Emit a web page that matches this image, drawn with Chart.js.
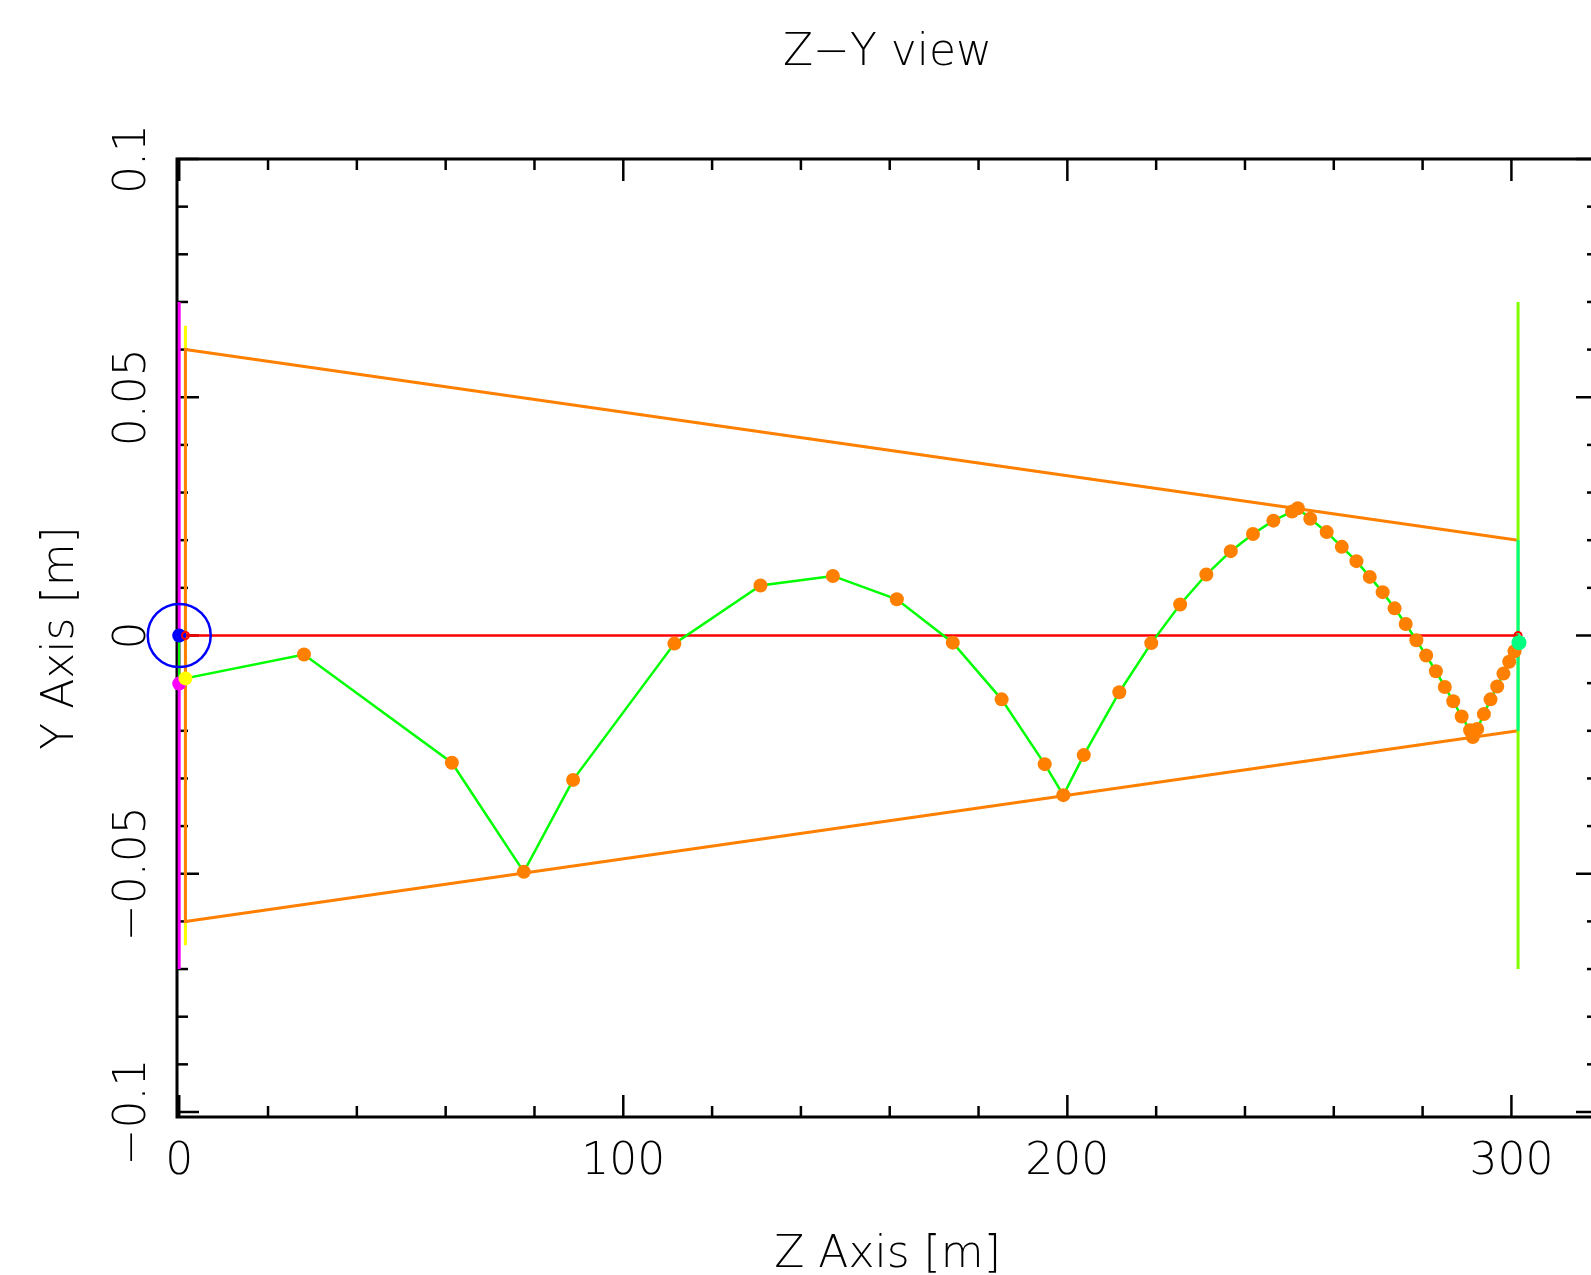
<!DOCTYPE html>
<html><head><meta charset="utf-8">
<script src="https://cdn.jsdelivr.net/npm/chart.js@4.4.0/dist/chart.umd.min.js"></script>
<style>html,body{margin:0;padding:0;background:#fff;overflow:hidden;}</style>
</head><body><canvas id="c" width="1591" height="1275"></canvas>
<script>
// ---------- texts ----------
const titleText = 'Z−Y view';
const xTitle = 'Z Axis [m]';
const yTitle = 'Y Axis [m]';

// ---------- axes ----------
const xMin = -0.5, xMax = 319.5;
const yMin = -0.10105, yMax = 0.1;
const xTickValues = [0, 100, 200, 300];
const xTickLabels = ['0', '100', '200', '300'];
const yTickValues = [-0.1, -0.05, 0, 0.05, 0.1];
const yTickLabels = ['−0.1', '−0.05', '0', '0.05', '0.1'];
const xMinorStep = 20, xMajorStep = 100;
const yMinorStep = 0.01, yMajorStep = 0.05;

// ---------- elements ----------
const magentaLineZ = [0, 0],          magentaLineY = [0.07, -0.07];
const yellowLineZ  = [1.4, 1.4],      yellowLineY  = [0.065, -0.065];
const orangeZ      = [301.5, 1.4, 1.4, 301.5];
const orangeY      = [0.02, 0.06, -0.06, -0.02];
const limeLineZ    = [301.5, 301.5],  limeLineY    = [0.07, -0.07];
const mintLineZ    = [301.5, 301.5],  mintLineY    = [0.02, -0.02];
const redLineZ     = [1.4, 301.5],    redLineY     = [0, 0];

// beam track (green line); orange markers on its interior points
const trackZ = [0, 0, 1.4, 28.1, 61.4, 77.6, 88.7, 111.5, 130.9, 147.2, 161.6, 174.2, 185.2, 194.9, 199.1, 203.7,
  211.7, 218.9, 225.4, 231.3, 236.8, 241.8, 246.4, 250.6, 251.9, 254.7, 258.4, 261.8, 265.1, 268.1, 271.0,
  273.7, 276.2, 278.6, 280.8, 283.0, 285.0, 286.9, 288.8, 290.7, 291.3, 292.3, 293.8, 295.3, 296.8, 298.2,
  299.5, 300.7, 301.7];
const trackY = [0, -0.0101, -0.009, -0.0040, -0.0267, -0.0496, -0.0303, -0.0017, 0.0105, 0.0125, 0.0076, -0.0015,
  -0.0134, -0.0270, -0.0335, -0.0251, -0.0119, -0.0016, 0.0065, 0.0128, 0.0177, 0.0213, 0.0241, 0.0260,
  0.0267, 0.0245, 0.0217, 0.0186, 0.0156, 0.0123, 0.0091, 0.0057, 0.0024, -0.0010, -0.0042, -0.0075,
  -0.0108, -0.0138, -0.0170, -0.0199, -0.0213, -0.0196, -0.0165, -0.0134, -0.0107, -0.0080, -0.0055,
  -0.0033, -0.0015];
const markerStart = 3, markerEnd = trackZ.length - 1;

const sourceZ = [0],     sourceY = [0];
const magentaDotZ = [0], magentaDotY = [-0.0101];
const yellowDotZ = [1.4], yellowDotY = [-0.009];
const mintDotZ = [301.7], mintDotY = [-0.0015];
const redEndZ = [1.4, 301.5], redEndY = [0, 0];

// ---------- helpers ----------
const pts = (zs, ys) => zs.map((z, i) => ({x: z, y: ys[i]}));
const FONT = 'DejaVu Sans';
const FW = '200';
const FS = 44;
const FRAME_OVERFLOW = 7; // the plot frame runs a few pixels past the right edge of the picture

function lineDs(zs, ys, color, w) {
  return {data: pts(zs, ys), showLine: true, borderColor: color, borderWidth: w, pointRadius: 0, fill: false};
}
function dotDs(zs, ys, color, r, opts) {
  return Object.assign({data: pts(zs, ys), showLine: false, pointRadius: r, pointBackgroundColor: color,
    pointBorderColor: color, pointBorderWidth: 0, clip: false}, opts || {});
}

const datasets = [
  lineDs(magentaLineZ, magentaLineY, '#ff00ff', 3),
  lineDs(yellowLineZ, yellowLineY, '#ffff00', 3),
  lineDs(orangeZ, orangeY, '#ff8000', 3),
  lineDs(limeLineZ, limeLineY, '#80ff00', 3),
  lineDs(mintLineZ, mintLineY, '#00ff80', 3),
  lineDs(redLineZ, redLineY, '#ff0000', 2.5),
  lineDs(trackZ, trackY, '#00ff00', 2.5),
  dotDs(trackZ.slice(markerStart, markerEnd), trackY.slice(markerStart, markerEnd), '#ff8000', 7),
  dotDs(sourceZ, sourceY, 'rgba(0,0,0,0)', 31.5, {pointBorderColor: '#0000ff', pointBorderWidth: 2.5}),
  dotDs(sourceZ, sourceY, '#0000ff', 7),
  dotDs(magentaDotZ, magentaDotY, '#ff00ff', 7),
  dotDs(yellowDotZ, yellowDotY, '#ffff00', 7),
  dotDs(redEndZ, redEndY, 'rgba(0,0,0,0)', 3.5, {pointBorderColor: '#ff0000', pointBorderWidth: 2}),
  dotDs(mintDotZ, mintDotY, '#00ff80', 7.5),
];
datasets.forEach((d, i) => { d.order = -i; });

// extend the plot area past the right edge, as in the reference
const overflowPlugin = {
  id: 'overflow',
  afterLayout(chart) {
    const target = chart.width + FRAME_OVERFLOW;
    const a = chart.chartArea;
    a.right = target; a.width = a.right - a.left;
    const xs = chart.scales.x;
    xs.right = target; xs.width = xs.right - xs.left; xs.configure();
    if (chart.titleBlock) {
      chart.titleBlock.right = target; chart.titleBlock.width = target - chart.titleBlock.left;
    }
  }
};

// frame + inward tick marks, positioned through the chart's scales
const framePlugin = {
  id: 'frame',
  beforeDatasetsDraw(chart) {
    const {ctx, chartArea: a, scales: {x, y}} = chart;
    ctx.save();
    ctx.strokeStyle = '#000';
    ctx.lineCap = 'butt';
    const seg = (x1, y1, x2, y2) => { ctx.beginPath(); ctx.moveTo(x1, y1); ctx.lineTo(x2, y2); ctx.stroke(); };
    ctx.lineWidth = 2.5;
    const nx = Math.round(xMax / xMinorStep);
    for (let i = 0; i <= nx; i++) {
      const v = i * xMinorStep;
      const major = (v % xMajorStep) === 0;
      const len = major ? 22 : 11;
      const px = x.getPixelForValue(v);
      seg(px, a.bottom, px, a.bottom - len);
      seg(px, a.top, px, a.top + len);
    }
    const ny = Math.round(yMax / yMinorStep);
    for (let i = -ny; i <= ny; i++) {
      const v = i * yMinorStep;
      const major = (Math.abs(i) % Math.round(yMajorStep / yMinorStep)) === 0;
      const len = major ? 22 : 11;
      const py = y.getPixelForValue(v);
      seg(a.left, py, a.left + len, py);
      seg(a.right, py, a.right - len, py);
    }
    ctx.lineWidth = 3;
    ctx.strokeRect(a.left, a.top, a.right - a.left, a.bottom - a.top);
    ctx.restore();
  }
};

// measure widest y label to centre rotated labels
const mctx = document.createElement('canvas').getContext('2d');
mctx.font = `${FW} ${FS}px "${FONT}"`;
const widestY = Math.max(...yTickLabels.map(t => mctx.measureText(t).width));
const yLabelCenter = 43; // distance from axis to label centre

const fontSpec = {family: FONT, size: FS, weight: FW, lineHeight: 1};

new Chart(document.getElementById('c'), {
  type: 'scatter',
  data: {datasets},
  plugins: [overflowPlugin, framePlugin],
  options: {
    responsive: false,
    animation: false,
    devicePixelRatio: 1,
    layout: {padding: {left: 0, right: 0, top: 0, bottom: 0}},
    plugins: {
      legend: {display: false},
      tooltip: {enabled: false},
      title: {
        display: true, text: titleText, fullSize: false, color: '#000',
        font: fontSpec,
        padding: {top: 32, bottom: 83}
      }
    },
    scales: {
      x: {
        type: 'linear', position: 'bottom', min: xMin, max: xMax,
        afterBuildTicks: s => { s.ticks = xTickValues.map(v => ({value: v})); },
        afterFit: s => { s.height = 158; },
        grid: {display: false, drawTicks: false},
        border: {display: false},
        ticks: {
          color: '#000', autoSkip: false, maxRotation: 0, minRotation: 0, padding: 24,
          font: fontSpec,
          callback: v => xTickLabels[xTickValues.indexOf(v)]
        },
        title: {
          display: true, text: xTitle, color: '#000',
          font: fontSpec,
          padding: {top: 0, bottom: -3}
        }
      },
      y: {
        type: 'linear', position: 'left', min: yMin, max: yMax,
        afterBuildTicks: s => { s.ticks = yTickValues.map(v => ({value: v})); },
        afterFit: s => { s.width = 177; },
        grid: {display: false, drawTicks: false},
        border: {display: false},
        ticks: {
          color: '#000', autoSkip: false, minRotation: 90, maxRotation: 90, crossAlign: 'center',
          padding: yLabelCenter - widestY / 2,
          font: fontSpec,
          callback: v => yTickLabels[yTickValues.indexOf(v)]
        },
        title: {
          display: true, text: yTitle, color: '#000',
          font: fontSpec,
          padding: {top: 40, bottom: 0}
        }
      }
    }
  }
});
</script>
</body></html>
